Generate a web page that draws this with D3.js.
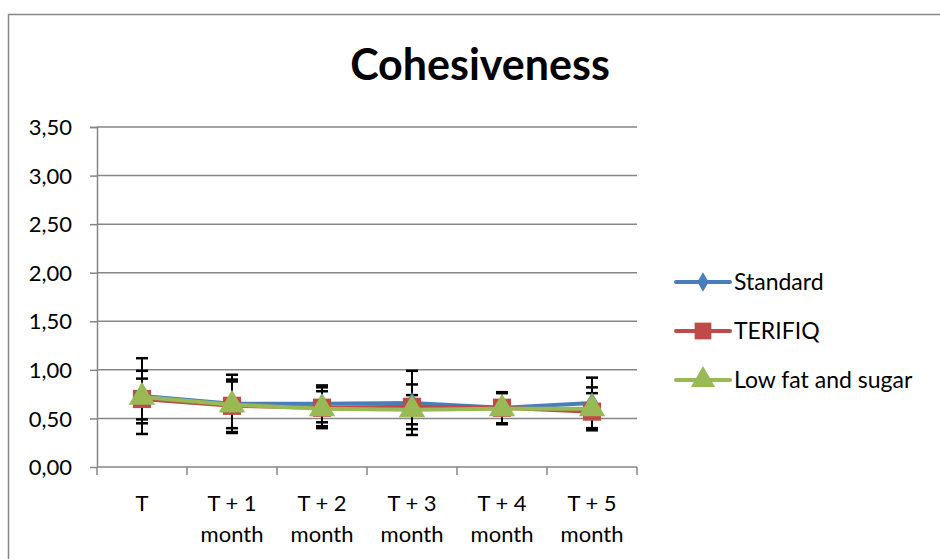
<!DOCTYPE html>
<html>
<head>
<meta charset="utf-8">
<script src="https://cdn.jsdelivr.net/npm/d3@7"></script>
<style>
  body { margin: 0; background: #fff; }
  text { font-family: Lato, "Open Sans", sans-serif; fill: #000; }
</style>
</head>
<body>
<svg id="chart" width="940" height="559"></svg>
<script>
// === data ===
const categories = [["T"], ["T + 1", "month"], ["T + 2", "month"], ["T + 3", "month"], ["T + 4", "month"], ["T + 5", "month"]];
const seriesNames = ["Standard", "TERIFIQ", "Low fat and sugar"];
const standardValues = [0.73, 0.65, 0.65, 0.66, 0.61, 0.66];
const standardErrors = [0.39, 0.30, 0.19, 0.33, 0.16, 0.26];
const terifiqValues = [0.70, 0.63, 0.61, 0.62, 0.61, 0.57];
const terifiqErrors = [0.21, 0.27, 0.21, 0.23, 0.16, 0.19];
const lowFatValues = [0.72, 0.64, 0.60, 0.59, 0.60, 0.60];
const lowFatErrors = [0.27, 0.24, 0.18, 0.15, 0.16, 0.22];
const yTicks = [0, 0.5, 1, 1.5, 2, 2.5, 3, 3.5];

const series = [
  { name: seriesNames[0], values: standardValues, errors: standardErrors, color: "#4A7EBB", symbol: d3.symbolDiamond, size: 130 },
  { name: seriesNames[1], values: terifiqValues, errors: terifiqErrors, color: "#BE4B48", symbol: d3.symbolSquare, size: 330 },
  { name: seriesNames[2], values: lowFatValues, errors: lowFatErrors, color: "#98B954", symbol: d3.symbolTriangle, size: 300 }
];

const svg = d3.select("#chart");
const margin = { top: 127, left: 97, right: 303, bottom: 92 };
const width = 940, height = 559;
const innerWidth = width - margin.left - margin.right;
const innerHeight = height - margin.top - margin.bottom;

// === ram (bara vänster och övre kant syns) ===
svg.append("path")
  .attr("d", `M8.5,${height}V14.5H${width}`)
  .attr("fill", "none").attr("stroke", "#868686").attr("stroke-width", 1.5);

const g = svg.append("g").attr("transform", `translate(${margin.left},${margin.top})`);

const x = d3.scaleBand().domain(d3.range(categories.length)).range([0, innerWidth]);
const y = d3.scaleLinear().domain([0, 3.5]).range([innerHeight, 0]);

// === grid ===
g.selectAll(".grid").data(yTicks.slice(1)).enter().append("line")
  .attr("x1", 0).attr("x2", innerWidth)
  .attr("y1", d => y(d)).attr("y2", d => y(d))
  .attr("stroke", "#868686").attr("stroke-width", 1.5);

// === axlar ===
const yAxis = g.append("g")
  .call(d3.axisLeft(y).tickValues(yTicks).tickSize(7).tickPadding(18)
    .tickFormat(d => d3.format(".2f")(d).replace(".", ",")));
yAxis.select(".domain").attr("stroke", "#868686").attr("stroke-width", 1.5).attr("d", `M-7,0.5H0.5V${innerHeight}`);
yAxis.selectAll(".tick line").attr("stroke", "#868686").attr("stroke-width", 1.5);
yAxis.selectAll("text").attr("font-size", 22).attr("dy", "0.35em").style("font-family", "Lato, sans-serif");

const xAxisG = g.append("g").attr("transform", `translate(0,${innerHeight})`);
xAxisG.append("line").attr("x1", 0).attr("x2", innerWidth).attr("stroke", "#868686").attr("stroke-width", 1.5);
xAxisG.selectAll(".xtick").data(d3.range(categories.length + 1)).enter().append("line")
  .attr("x1", d => d * x.bandwidth()).attr("x2", d => d * x.bandwidth())
  .attr("y1", 0).attr("y2", 8)
  .attr("stroke", "#868686").attr("stroke-width", 1.5);
xAxisG.selectAll(".xlabel").data(categories).enter().append("text")
  .attr("text-anchor", "middle")
  .attr("font-size", 22)
  .attr("transform", (d, i) => `translate(${x(i) + x.bandwidth() / 2},0)`)
  .selectAll("tspan").data(d => d).enter().append("tspan")
  .attr("x", 0).attr("y", (d, i) => 44 + i * 31)
  .text(d => d);

// === felstaplar ===
const capW = 6;
series.forEach(s => {
  const eg = g.append("g");
  s.values.forEach((v, i) => {
    const cx = x(i) + x.bandwidth() / 2;
    const top = y(v + s.errors[i]), bot = y(v - s.errors[i]);
    eg.append("line").attr("x1", cx).attr("x2", cx).attr("y1", top).attr("y2", bot)
      .attr("stroke", "#000").attr("stroke-width", 2);
    [top, bot].forEach(yy => eg.append("line")
      .attr("x1", cx - capW).attr("x2", cx + capW).attr("y1", yy).attr("y2", yy)
      .attr("stroke", "#000").attr("stroke-width", 2.5));
  });
});

// === linjer och markörer ===
const line = d3.line().x((d, i) => x(i) + x.bandwidth() / 2).y(d => y(d));
series.forEach(s => {
  g.append("path").datum(s.values)
    .attr("d", line).attr("fill", "none")
    .attr("stroke", s.color).attr("stroke-width", 4).attr("stroke-linejoin", "round");
  g.selectAll(null).data(s.values).enter().append("path")
    .attr("d", d3.symbol().type(s.symbol).size(s.size))
    .attr("transform", (d, i) => `translate(${x(i) + x.bandwidth() / 2},${y(d)})`)
    .attr("fill", s.color);
});

// === titel ===
svg.append("text")
  .attr("x", 480).attr("y", 80)
  .attr("text-anchor", "middle")
  .attr("font-size", 43).attr("font-weight", "bold")
  .text("Cohesiveness");

// === legend ===
const legend = svg.append("g").attr("transform", "translate(674,282)");
series.forEach((s, i) => {
  const lg = legend.append("g").attr("transform", `translate(0,${i * 49})`);
  lg.append("line").attr("x1", 2).attr("x2", 56).attr("stroke", s.color)
    .attr("stroke-width", 4).attr("stroke-linecap", "round");
  lg.append("path").attr("d", d3.symbol().type(s.symbol).size(s.size * 0.85)).attr("transform", "translate(29,0)").attr("fill", s.color);
  lg.append("text").attr("x", 60).attr("y", 8).attr("font-size", 23).text(s.name);
});
</script>
</body>
</html>
